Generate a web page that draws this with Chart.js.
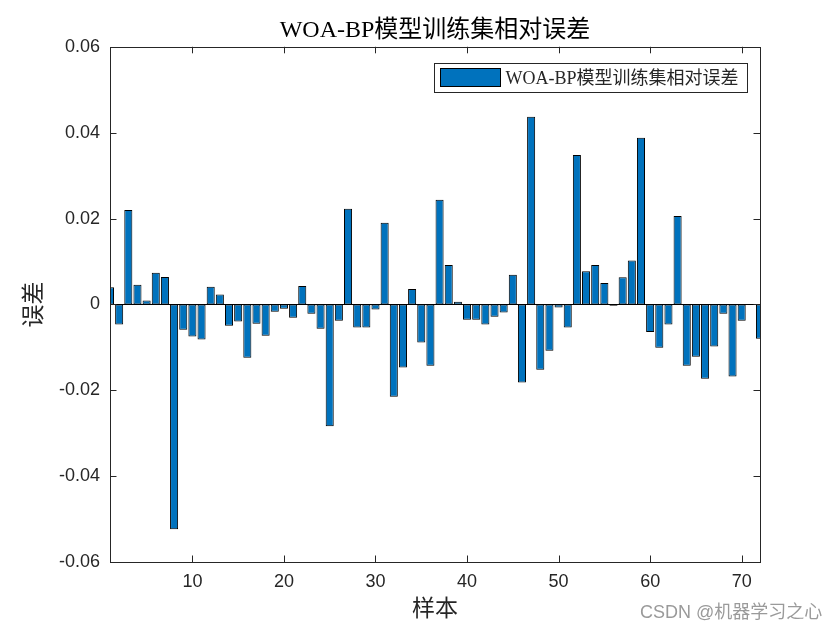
<!DOCTYPE html>
<html lang="zh">
<head>
<meta charset="utf-8">
<title>WOA-BP模型训练集相对误差</title>
<script src="https://cdn.jsdelivr.net/npm/chart.js@4.4.1/dist/chart.umd.min.js"></script>
<style>
  html, body { margin: 0; padding: 0; background: #fff; }
  .wrap { position: relative; width: 840px; height: 630px; }
  #errorChart { display: block; }
  .watermark {
    position: absolute; left: 640px; top: 597px;
    font: 18px "Liberation Sans", Arial, "Noto Sans CJK SC", sans-serif;
    color: #9a9a9a; white-space: nowrap;
  }
</style>
</head>
<body>
<div class="wrap">
  <canvas id="errorChart" width="840" height="630"></canvas>
  <div class="watermark">CSDN @机器学习之心</div>
</div>
<script>
// Dados do gráfico
const samples = [
  1, 2, 3, 4, 5, 6, 7, 8, 9, 10, 11, 12, 13, 14, 15, 16, 17, 18,
  19, 20, 21, 22, 23, 24, 25, 26, 27, 28, 29, 30, 31, 32, 33, 34, 35, 36,
  37, 38, 39, 40, 41, 42, 43, 44, 45, 46, 47, 48, 49, 50, 51, 52, 53, 54,
  55, 56, 57, 58, 59, 60, 61, 62, 63, 64, 65, 66, 67, 68, 69, 70, 71, 72,
];
const errors = [
  0.0040, -0.0047, 0.0220, 0.0046, 0.0009, 0.0074, 0.0064, -0.0524, -0.0059, -0.0075,
  -0.0082, 0.0041, 0.0023, -0.0050, -0.0040, -0.0124, -0.0045, -0.0073, -0.0017, -0.0010,
  -0.0031, 0.0043, -0.0022, -0.0057, -0.0284, -0.0038, 0.0223, -0.0054, -0.0054, -0.0012,
  0.0190, -0.0215, -0.0147, 0.0036, -0.0089, -0.0143, 0.0244, 0.0092, 0.0006, -0.0036,
  -0.0036, -0.0047, -0.0029, -0.0019, 0.0069, -0.0182, 0.0437, -0.0152, -0.0108, -0.0007,
  -0.0054, 0.0348, 0.0077, 0.0092, 0.0050, -0.0003, 0.0063, 0.0102, 0.0388, -0.0064,
  -0.0101, -0.0047, 0.0206, -0.0143, -0.0122, -0.0173, -0.0098, -0.0022, -0.0168, -0.0038,
  0.0000, -0.0080,
];
const xTicks = [10, 20, 30, 40, 50, 60, 70];
const yTicks = [-0.06, -0.04, -0.02, 0, 0.02, 0.04, 0.06];
const seriesLabel = "WOA-BP模型训练集相对误差";

const axisColor = "#262626";
const barColor = "#0072BD";
const serifFont = "'Times New Roman', 'Liberation Serif', 'Noto Sans CJK SC', serif";
const tickFont = "Arial, 'Liberation Sans', sans-serif";

// caixa, ticks para dentro, linha de base e legenda (estilo MATLAB)
const matlabAxes = {
  id: "matlabAxes",
  afterDatasetsDraw(chart) {
    const { ctx, chartArea: a, scales } = chart;
    const tl = 6.5;
    ctx.save();
    ctx.strokeStyle = "#000";
    ctx.lineWidth = 1;
    // linha de base em y = 0
    const y0 = Math.round(scales.y.getPixelForValue(0)) + 0.5;
    ctx.beginPath();
    ctx.moveTo(a.left, y0);
    ctx.lineTo(a.right, y0);
    ctx.stroke();

    ctx.strokeStyle = axisColor;
    ctx.beginPath();
    xTicks.forEach((v) => {
      const px = Math.round(scales.x.getPixelForValue(v)) + 0.5;
      ctx.moveTo(px, a.bottom);
      ctx.lineTo(px, a.bottom - tl);
      ctx.moveTo(px, a.top);
      ctx.lineTo(px, a.top + tl);
    });
    yTicks.forEach((v) => {
      const py = Math.round(scales.y.getPixelForValue(v)) + 0.5;
      ctx.moveTo(a.left, py);
      ctx.lineTo(a.left + tl, py);
      ctx.moveTo(a.right, py);
      ctx.lineTo(a.right - tl, py);
    });
    ctx.stroke();
    ctx.strokeRect(Math.round(a.left) + 0.5, Math.round(a.top) + 0.5,
      Math.round(a.right - a.left), Math.round(a.bottom - a.top));

    // legenda
    ctx.font = "18px " + serifFont;
    const tw = ctx.measureText(seriesLabel).width;
    const bw = 6 + 60 + 5 + tw + 9;
    const bh = 29;
    const bx = Math.round(a.right - 13 - bw) + 0.5;
    const by = Math.round(a.top + 16) + 0.5;
    ctx.fillStyle = "#fff";
    ctx.fillRect(bx, by, bw, bh);
    ctx.strokeStyle = axisColor;
    ctx.strokeRect(bx, by, bw, bh);
    ctx.fillStyle = barColor;
    ctx.fillRect(bx + 6, by + 5, 60, 18);
    ctx.strokeStyle = "#000";
    ctx.strokeRect(bx + 6, by + 5, 60, 18);
    ctx.fillStyle = axisColor;
    ctx.textBaseline = "middle";
    ctx.fillText(seriesLabel, bx + 71, by + bh / 2 + 1);
    ctx.restore();
  },
};

const ctx = document.getElementById("errorChart").getContext("2d");

new Chart(ctx, {
  type: "bar",
  data: {
    datasets: [
      {
        label: seriesLabel,
        data: samples.map((s, i) => ({ x: s, y: errors[i] })),
        backgroundColor: barColor,
        borderColor: "#000",
        borderWidth: 1,
        borderSkipped: false,
        barPercentage: 0.88,
        categoryPercentage: 1,
      },
    ],
  },
  options: {
    responsive: false,
    animation: false,
    layout: { padding: { top: 0, right: 80, bottom: 0, left: 0 } },
    scales: {
      x: {
        type: "linear",
        min: 1,
        max: 72,
        offset: false,
        grid: { display: false, drawTicks: false },
        border: { display: false },
        afterBuildTicks: (scale) => {
          scale.ticks = xTicks.map((v) => ({ value: v }));
        },
        afterFit: (scale) => {
          scale.height = 68;
        },
        ticks: {
          padding: 9,
          maxRotation: 0,
          color: axisColor,
          font: { family: tickFont, size: 18 },
        },
        title: {
          display: true,
          text: "样本",
          color: axisColor,
          padding: { top: 0, bottom: 6 },
          font: { family: serifFont, size: 23 },
        },
      },
      y: {
        min: -0.06,
        max: 0.06,
        grid: { display: false, drawTicks: false },
        border: { display: false },
        afterBuildTicks: (scale) => {
          scale.ticks = yTicks.map((v) => ({ value: v }));
        },
        afterFit: (scale) => {
          scale.width = 110;
        },
        ticks: {
          padding: 10,
          color: axisColor,
          font: { family: tickFont, size: 18 },
          callback: (v) => (v === 0 ? "0" : v.toFixed(2)),
        },
        title: {
          display: true,
          text: "误差",
          color: axisColor,
          padding: { top: 21, bottom: 0 },
          font: { family: serifFont, size: 23 },
        },
      },
    },
    plugins: {
      legend: { display: false },
      tooltip: { enabled: false },
      title: {
        display: true,
        fullSize: false,
        text: seriesLabel,
        color: "#000",
        padding: { top: 16, bottom: 2 },
        font: { family: serifFont, size: 24, weight: "normal" },
      },
    },
  },
  plugins: [matlabAxes],
});
</script>
</body>
</html>
